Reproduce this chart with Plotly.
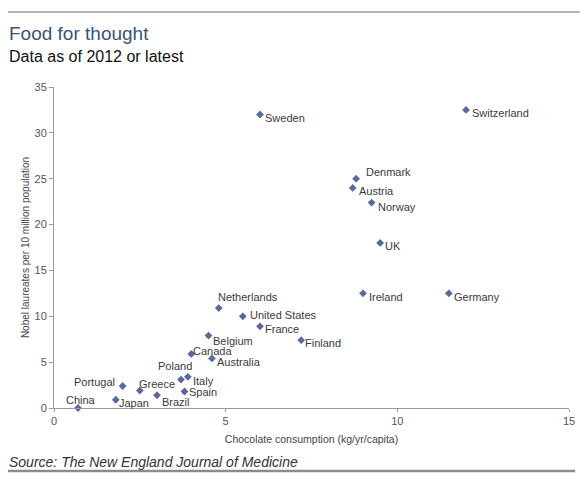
import plotly.graph_objects as go

# Chocolate consumption vs Nobel laureates
countries = ["Sweden", "Switzerland", "Denmark", "Austria", "Norway", "UK",
             "Ireland", "Germany", "Netherlands", "United States", "France",
             "Finland", "Belgium", "Canada", "Australia", "Poland", "Italy",
             "Spain", "Brazil", "Greece", "Portugal", "Japan", "China"]
chocolate = [6.0, 12.0, 8.8, 8.7, 9.25, 9.5,
             9.0, 11.5, 4.8, 5.5, 6.0,
             7.2, 4.5, 4.0, 4.6, 3.7, 3.9,
             3.8, 3.0, 2.5, 2.0, 1.8, 0.7]
laureates = [32.0, 32.5, 25.0, 24.0, 22.4, 18.0,
             12.5, 12.5, 10.9, 10.0, 8.9,
             7.4, 7.9, 5.9, 5.4, 3.1, 3.4,
             1.8, 1.4, 1.9, 2.4, 0.9, 0.0]

# label placement (anchor, x shift px, y shift px) so names sit as in the original
label_anchor = ["left"] * 15 + ["center"] + ["left"] * 4 + ["right", "left", "center"]
label_dx = [3, 4, 8, 4, 4, 3, 4, 3, -3, 5, 3, 2, 2, 0, 3, -6, 3, 3, 3, -3, -6, 1, 3]
label_dy = [-3, -3, 7, -3, -4, -3, -4, -4, 11, 1, -3, -3, -5, 3, -4, 14, -4, -1, -7, 7, 4, -3, 8]

x_ticks = [0, 5, 10, 15]
y_ticks = [0, 5, 10, 15, 20, 25, 30, 35]

FONT = "Liberation Sans, Arial"

fig = go.Figure()
fig.add_trace(go.Scatter(
    x=chocolate, y=laureates, mode="markers",
    marker=dict(symbol="diamond", size=6, color="#5a68a0"),
    cliponaxis=False, showlegend=False, hoverinfo="skip"))

for name, cx, cy, anc, dx, dy in zip(countries, chocolate, laureates, label_anchor, label_dx, label_dy):
    fig.add_annotation(x=cx, y=cy, text=name, showarrow=False,
                       xanchor=anc, yanchor="middle", xshift=dx, yshift=dy,
                       font=dict(family=FONT, size=11, color="#3a3a3a"))

fig.update_layout(
    width=580, height=472,
    margin=dict(l=46, r=19, t=79, b=72),
    paper_bgcolor="white", plot_bgcolor="white",
    font=dict(family=FONT, color="#444444"),
    xaxis=dict(range=[0, 15], tickvals=x_ticks, showgrid=False, zeroline=False,
               showline=True, linecolor="#9a9a9a", linewidth=1,
               ticks="outside", ticklen=3, tickcolor="#9a9a9a",
               tickfont=dict(size=11, color="#555555"),
               title=dict(text="Chocolate consumption (kg/yr/capita)",
                          font=dict(size=10.5, color="#444444"), standoff=9)),
    yaxis=dict(range=[0, 35], tickvals=y_ticks, showgrid=False, zeroline=False,
               showline=True, linecolor="#9a9a9a", linewidth=1,
               ticks="outside", ticklen=4, tickcolor="#9a9a9a",
               tickfont=dict(size=11, color="#555555"),
               title=dict(text="Nobel laureates per 10 million population",
                          font=dict(size=10, color="#444444"), standoff=3)),
)

fig.add_annotation(text="Food for thought", xref="paper", yref="paper",
                   x=-0.092, y=1.168, xanchor="left", yanchor="middle", showarrow=False,
                   font=dict(family=FONT, size=19, color="#3a5478"))
fig.add_annotation(text="Data as of 2012 or latest", xref="paper", yref="paper",
                   x=-0.092, y=1.095, xanchor="left", yanchor="middle", showarrow=False,
                   font=dict(family=FONT, size=16, color="#111111"))
fig.add_annotation(text="<i>Source: The New England Journal of Medicine</i>", xref="paper", yref="paper",
                   x=-0.092, y=-0.168, xanchor="left", yanchor="middle", showarrow=False,
                   font=dict(family=FONT, size=14, color="#333333"))

fig.add_shape(type="line", xref="paper", yref="paper", x0=-0.095, x1=1.021, y0=1.234, y1=1.234,
              line=dict(color="#b5b5b5", width=2))
fig.add_shape(type="line", xref="paper", yref="paper", x0=-0.095, x1=1.012, y0=-0.196, y1=-0.196,
              line=dict(color="#8c8c8c", width=2.5))

fig.write_html("out.html")
